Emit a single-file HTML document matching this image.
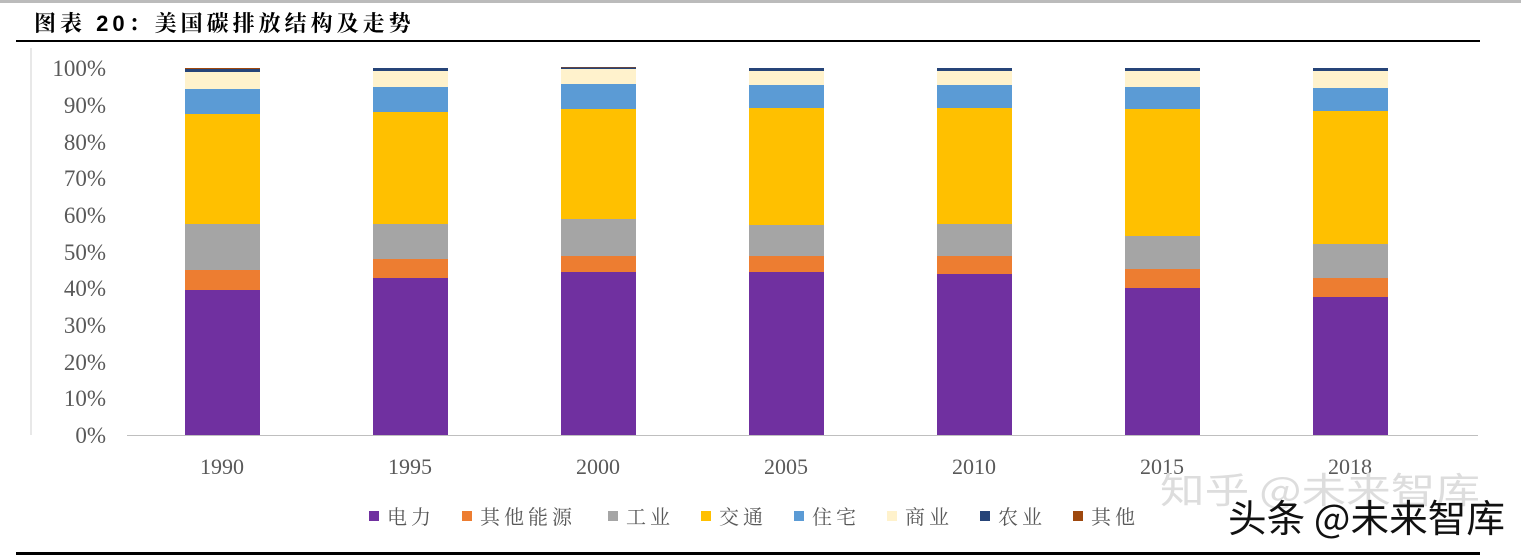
<!DOCTYPE html>
<html><head><meta charset="utf-8"><style>
body{margin:0;width:1521px;height:559px;background:#fff;overflow:hidden;position:relative;font-family:"Liberation Serif","Noto Serif CJK SC",serif}
</style></head><body>
<div style="position:absolute;left:0;top:0;width:1521px;height:3px;background:#bbb"></div>
<div style="position:absolute;left:34px;top:7px;font-size:22px;font-weight:bold;font-family:'Liberation Sans','Noto Serif CJK SC',serif;letter-spacing:4px">图表 20：美国碳排放结构及走势</div>
<div style="position:absolute;left:16px;top:40px;width:1464px;height:2px;background:#000"></div>
<div style="position:absolute;left:16px;top:552px;width:1464px;height:3px;background:#000"></div>
<svg id="s" width="1521" height="559" style="position:absolute;left:0;top:0" xmlns="http://www.w3.org/2000/svg">
<line x1="31" y1="48" x2="31" y2="435" stroke="#d0d0d0"/>
<line x1="127" y1="435.5" x2="1478" y2="435.5" stroke="#bfbfbf"/>
<g font-size="23" fill="#595959" text-anchor="end" font-family="Liberation Serif,serif">
<text x="106" y="76">100%</text><text x="106" y="113">90%</text><text x="106" y="150">80%</text><text x="106" y="186">70%</text><text x="106" y="223">60%</text><text x="106" y="260">50%</text><text x="106" y="296">40%</text><text x="106" y="333">30%</text><text x="106" y="370">20%</text><text x="106" y="406">10%</text><text x="106" y="443">0%</text>
</g>
<g font-size="22" fill="#595959" text-anchor="middle" font-family="Liberation Serif,serif">
<text x="222" y="474">1990</text><text x="410" y="474">1995</text><text x="598" y="474">2000</text><text x="786" y="474">2005</text><text x="974" y="474">2010</text><text x="1162" y="474">2015</text><text x="1350" y="474">2018</text>
</g>
<g id="bars"></g>
<g font-size="20" fill="#595959" font-family="Liberation Serif,'Noto Serif CJK SC',serif" letter-spacing="4">
<rect x="369" y="511" width="10" height="10" fill="#7030A0"/><text x="387" y="524">电力</text>
<rect x="462" y="511" width="10" height="10" fill="#ED7D31"/><text x="480" y="524">其他能源</text>
<rect x="608" y="511" width="10" height="10" fill="#A5A5A5"/><text x="626" y="524">工业</text>
<rect x="701" y="511" width="10" height="10" fill="#FFC000"/><text x="719" y="524">交通</text>
<rect x="794" y="511" width="10" height="10" fill="#5B9BD5"/><text x="812" y="524">住宅</text>
<rect x="887" y="511" width="10" height="10" fill="#FFF2CC"/><text x="905" y="524">商业</text>
<rect x="980" y="511" width="10" height="10" fill="#264478"/><text x="998" y="524">农业</text>
<rect x="1073" y="511" width="10" height="10" fill="#9E480E"/><text x="1091" y="524">其他</text>
</g>
<text x="1160" y="503" font-size="36" fill="#ddd" font-family="'Noto Sans CJK SC',sans-serif" textLength="320" lengthAdjust="spacingAndGlyphs">知乎 @未来智库</text>
<text x="1228" y="532" font-size="38" fill="#111" font-family="'Noto Sans CJK SC',sans-serif" textLength="277" lengthAdjust="spacingAndGlyphs">头条 @未来智库</text>
</svg>
<script>
var cols=["#7030A0","#ED7D31","#A5A5A5","#FFC000","#5B9BD5","#FFF2CC","#264478","#9E480E"];
var xs=[185,373,561,749,937,1125,1313];
var tops=[[290,270,224,114,89,72,69,68],[278,259,224,112,87,71,68,68],[272,256,219,109,84,69,67.5,67],[272,256,225,108,85,71,68,68],[274,256,224,108,85,71,68,68],[288,269,236,109,87,71,68,68],[297,278,244,111,88,71,68,68]];
var g=document.getElementById("bars"),h="";
for(var i=0;i<7;i++){var prev=435;for(var k=0;k<8;k++){var t=tops[i][k];if(prev-t>0)h+='<rect x="'+xs[i]+'" y="'+t+'" width="75" height="'+(prev-t)+'" fill="'+cols[k]+'"/>';prev=t;}}
g.innerHTML=h;
</script>
</body></html>
